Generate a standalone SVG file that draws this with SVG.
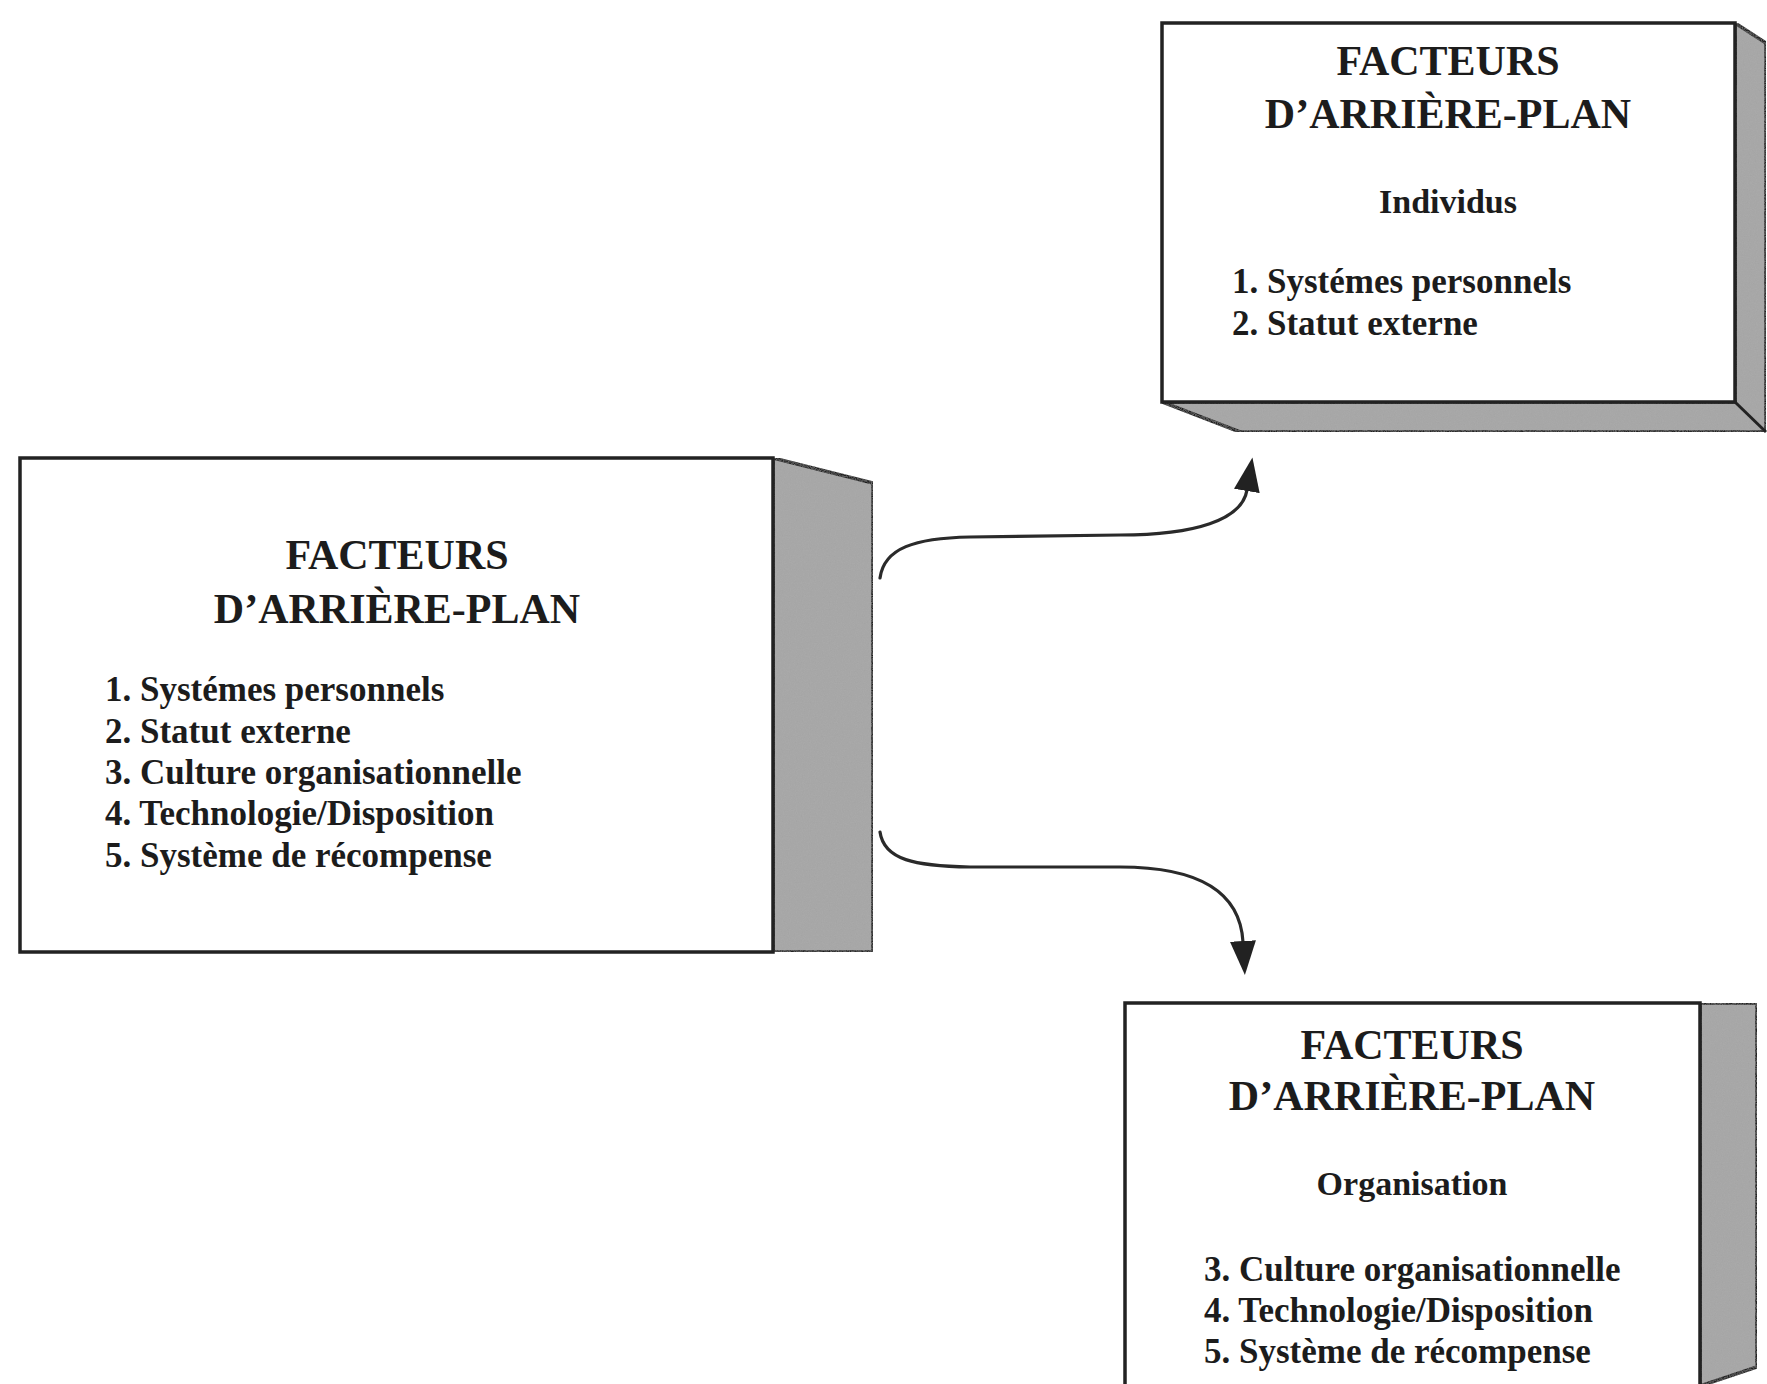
<svg xmlns="http://www.w3.org/2000/svg" width="1767" height="1384" viewBox="0 0 1767 1384">
<style>
.bg{fill:#ffffff}
.front{fill:#ffffff;stroke:#222;stroke-width:3.5;stroke-linejoin:miter}
.side{fill:#a9a9a9;stroke:#222;stroke-width:3.5;stroke-linejoin:miter;filter:url(#grain)}
.edge{fill:none;stroke:#222;stroke-width:3}
.title{font-family:"Liberation Serif","Times New Roman",serif;font-weight:bold;font-size:42px;fill:#1c1c1c;text-anchor:middle}
.sub{font-family:"Liberation Serif","Times New Roman",serif;font-weight:bold;font-size:34px;fill:#1c1c1c;text-anchor:middle}
.item{font-family:"Liberation Serif","Times New Roman",serif;font-weight:bold;font-size:35px;fill:#1c1c1c}
.conn{fill:none;stroke:#2a2a2a;stroke-width:3.2;stroke-linecap:round}
</style>
<defs>
<filter id="grain" x="0" y="0" width="100%" height="100%">
<feTurbulence type="fractalNoise" baseFrequency="0.85" numOctaves="2" seed="4" result="n"/>
<feColorMatrix in="n" type="matrix" values="0 0 0 0 0.35  0 0 0 0 0.35  0 0 0 0 0.35  0 0 0 0.9 -0.3" result="g"/>
<feComposite in="g" in2="SourceGraphic" operator="in" result="gm"/>
<feMerge><feMergeNode in="SourceGraphic"/><feMergeNode in="gm"/></feMerge>
</filter>
<marker id="arrow" markerUnits="userSpaceOnUse" markerWidth="36" markerHeight="28" refX="1" refY="13" orient="auto">
<path d="M0,0 L34,13 L0,26 Z" fill="#222"/>
</marker>
</defs>
<rect class="bg" x="0" y="0" width="1767" height="1384"/>

<g id="node-main">
<polygon class="side" points="773,458 873,483 873,952 773,952"/>
<rect class="front" x="20" y="458" width="753" height="494"/>
<text class="title" x="397" y="569">FACTEURS</text>
<text class="title" x="397" y="623">D’ARRIÈRE-PLAN</text>
<text class="item" x="105" y="701">1. Systémes personnels</text>
<text class="item" x="105" y="743">2. Statut externe</text>
<text class="item" x="105" y="784">3. Culture organisationnelle</text>
<text class="item" x="105" y="825">4. Technologie/Disposition</text>
<text class="item" x="105" y="867">5. Système de récompense</text>
</g>

<g id="node-individus">
<polygon class="side" points="1735,23 1766,43 1766,432 1240,432 1162,402 1735,402"/>
<line class="edge" x1="1735" y1="402" x2="1766" y2="432"/>
<rect class="front" x="1162" y="23" width="573" height="379"/>
<text class="title" x="1448" y="75">FACTEURS</text>
<text class="title" x="1448" y="128">D’ARRIÈRE-PLAN</text>
<text class="sub" x="1448" y="213">Individus</text>
<text class="item" x="1232" y="293">1. Systémes personnels</text>
<text class="item" x="1232" y="335">2. Statut externe</text>
</g>

<g id="node-organisation">
<polygon class="side" points="1700,1003 1757,1003 1757,1367 1700,1386"/>
<rect class="front" x="1125" y="1003" width="575" height="400"/>
<text class="title" x="1412" y="1059">FACTEURS</text>
<text class="title" x="1412" y="1110">D’ARRIÈRE-PLAN</text>
<text class="sub" x="1412" y="1195">Organisation</text>
<text class="item" x="1204" y="1281">3. Culture organisationnelle</text>
<text class="item" x="1204" y="1322">4. Technologie/Disposition</text>
<text class="item" x="1204" y="1363">5. Système de récompense</text>
</g>

<g id="connectors">
<path class="conn" marker-end="url(#arrow)" d="M880,578 C884,548 915,538 970,537 L1120,535 C1195,535 1242,520 1247,490"/>
<path class="conn" marker-end="url(#arrow)" d="M880,832 C884,860 915,866 970,867 L1120,867 C1195,867 1240,890 1243,942"/>
</g>
</svg>
